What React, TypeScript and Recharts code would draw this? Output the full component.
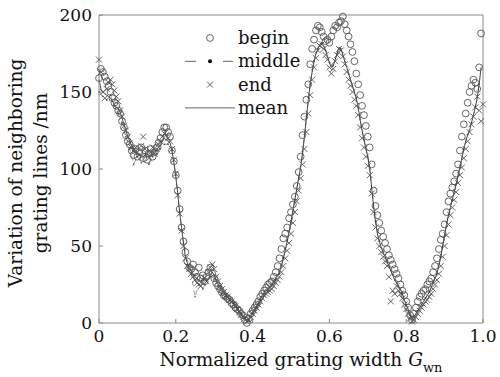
import React from 'react';
import { ComposedChart, Line, Scatter, XAxis, YAxis, Legend } from 'recharts';

// Samples on a 0.005 grid of normalized grating width (begin / end / mean),
// the middle profile is sampled every 0.01.
const BEGIN: (number | null)[] = [
  159, 165, 163, 160, 157, 154, 150, 146, 143, 141,
  138, 136, 131, 127, 122, 118, 116, 112, 109, 113,
  108, 111, 114, 107, 112, 106, 110, 113, 108, 111,
  114, 117, 120, 124, 127, 127, 124, 121, 112, 105,
  96, 86, 74, 62, 53, 46, 40, 36, 35, 38,
  33, 30, 36, 29, 31, 27, 30, 33, 36, 32,
  29, 26, 24, 22, 20, 18, 17, 16, 15, 13,
  12, 10, 9, 8, 6, 5, 2, 0, 3, 6,
  8, 10, 12, 14, 17, 19, 21, 23, 25, 26,
  27, 30, 33, 37, 42, 48, 55, 58, 62, 68,
  72, 77, 82, 89, 98, 108, 122, 134, 145, 155,
  168, 178, 184, 190, 193, 192, 189, 186, 183, 184,
  182, 186, 190, 193, 192, 195, 196, 199, 194, 190,
  186, 181, 176, 170, 162, 155, 148, 141, 135, 128,
  121, 114, 103, 86, 76, 70, 65, 60, 56, 52,
  48, 44, 41, 38, 35, 32, 29, 25, 21, 18,
  14, 10, 5, 2, 6, 10, 14, 17, 19, 21,
  22, 25, 27, 29, 33, 37, 42, 48, 54, 58,
  64, 72, 79, 84, 88, 92, 97, 103, 112, 121,
  129, 136, 143, 150, 154, 158, 156, 152, 166, 188,
  null,
];

const END: (number | null)[] = [
  171, 163, 150, 146, 152, 156, 158, 155, 151, 147,
  144, 138, 134, 128, 125, 121, 117, 114, 112, 114,
  111, 109, 115, 121, 113, 110, 107, 111, 114, 110,
  113, 116, 118, 121, 123, 122, 120, 118, 113, 106,
  97, 83, 71, 60, 50, 42, 37, 35, 32, 30,
  28, 26, 25, 24, 26, 29, 27, 33, 36, 38,
  35, 30, 27, 24, 22, 20, 18, 17, 15, 14,
  12, 11, 9, 7, 5, 4, 3, 1, 2, 4,
  6, 8, 10, 12, 14, 16, 18, 19, 20, 21,
  22, 24, 26, 28, 30, 33, 37, 42, 47, 52,
  58, 65, 72, 79, 86, 94, 103, 113, 124, 136,
  148, 158, 166, 172, 177, 180, 181, 178, 174, 171,
  166, 162, 165, 170, 174, 178, 177, 173, 168, 163,
  158, 154, 150, 145, 141, 135, 127, 120, 114, 108,
  102, 96, 84, 72, 62, 55, 50, 46, 43, 40,
  37, 30, 14, 21, 19, 24, 21, 19, 16, 12,
  9, 6, 3, 1, 2, 4, 6, 8, 10, 12,
  14, 15, 17, 19, 22, 25, 28, 32, 37, 43,
  50, 57, 64, 70, 75, 80, 85, 91, 96, 101,
  107, 113, 118, 124, 129, 134, 140, 147, 138, 131,
  142,
];

const MEAN: number[] = [
  158, 152, 150, 149, 148, 147, 146, 144, 142, 140,
  139, 137, 133, 129, 125, 121, 118, 115, 113, 111,
  110, 109, 108, 108, 109, 110, 108, 109, 110, 111,
  112, 114, 116, 118, 120, 119, 118, 117, 112, 104,
  95, 84, 72, 62, 52, 43, 39, 36, 34, 32,
  30, 29, 28, 27, 28, 28, 28, 29, 31, 33,
  31, 28, 25, 23, 21, 20, 19, 17, 16, 15,
  14, 12, 10, 8, 6, 5, 3, 2, 3, 5,
  7, 9, 11, 13, 16, 18, 20, 21, 22, 23,
  25, 27, 29, 31, 33, 37, 42, 47, 53, 59,
  66, 73, 80, 87, 94, 101, 110, 121, 133, 145,
  155, 163, 170, 175, 178, 181, 182, 180, 177, 173,
  169, 166, 167, 171, 175, 179, 178, 174, 170, 166,
  162, 158, 154, 150, 146, 140, 132, 125, 119, 113,
  108, 101, 88, 76, 66, 58, 53, 49, 46, 43,
  40, 37, 34, 31, 28, 26, 24, 22, 19, 15,
  12, 9, 5, 2, 4, 6, 8, 10, 12, 14,
  16, 18, 20, 23, 26, 29, 32, 37, 43, 50,
  57, 64, 70, 75, 80, 85, 90, 96, 101, 107,
  113, 118, 122, 125, 130, 135, 140, 146, 155, 166,
];

const MIDDLE: (number | null)[] = [
  150, 147, 145, 148, 141, 136, 130, 121, 113, 103,
  108, 104, 110, 103, 108, 110, 113, 116, 116, 112,
  96, 72, 52, 38, 32, 17, 25, 22, 27, 30,
  29, 24, 19, 17, 15, 13, 10, 6, 3, 2,
  6, 10, 15, 19, 21, 24, 28, 32, 42, 53,
  65, 80, 94, 110, 133, 155, 170, 178, 182, 177,
  169, 167, 175, 178, 170, 162, 154, 146, 132, 119,
  108, 88, 66, 53, 46, 40, 34, 28, 24, 19,
  12, 5, 4, 8, 12, 16, 20, 26, 32, 43,
  57, 70, 80, 90, 101, 113, 122, 130, 140, 155,
  null,
];

const X_TICKS = [0, 0.2, 0.4, 0.6, 0.8, 1.0];
const Y_TICKS = [0, 50, 100, 150, 200];
const LEGEND_ITEMS = ['begin', 'middle', 'end', 'mean'];

const rows = BEGIN.map((b, i) => ({
  x: i / 200,
  begin: b,
  end: END[i] ?? null,
  mean: i < MEAN.length ? MEAN[i] : null,
  middle: i % 2 === 0 ? MIDDLE[i / 2] ?? null : null,
}));

const FONT = '"DejaVu Serif", serif';
const AXIS = '#8a8a8a';
const MARK = '#555';

const Ring = (p: any) => {
  if (!p || typeof p.cy !== 'number' || isNaN(p.cy) || p.payload?.begin == null) return <g />;
  return <circle cx={p.cx} cy={p.cy} r={3.4} fill="none" stroke={MARK} strokeWidth={0.9} />;
};

const Cross = (p: any) => {
  if (!p || typeof p.cy !== 'number' || isNaN(p.cy) || p.payload?.end == null) return <g />;
  const s = 3;
  return (
    <g stroke={MARK} strokeWidth={0.9}>
      <line x1={p.cx - s} y1={p.cy - s} x2={p.cx + s} y2={p.cy + s} />
      <line x1={p.cx - s} y1={p.cy + s} x2={p.cx + s} y2={p.cy - s} />
    </g>
  );
};

const LegendBox = () => (
  <svg width={130} height={96} style={{ display: 'block' }}>
    {LEGEND_ITEMS.map((name, i) => {
      const cy = 12 + i * 23.3;
      let marker: React.ReactNode = null;
      if (name === 'begin') marker = <circle cx={30} cy={cy} r={3.4} fill="none" stroke={MARK} strokeWidth={0.9} />;
      if (name === 'middle')
        marker = (
          <g stroke="#666" strokeWidth={1}>
            <line x1={5} y1={cy} x2={16} y2={cy} />
            <line x1={43} y1={cy} x2={53} y2={cy} />
            <circle cx={30} cy={cy} r={2} fill="#111" stroke="none" />
          </g>
        );
      if (name === 'end')
        marker = (
          <g stroke={MARK} strokeWidth={0.9}>
            <line x1={27} y1={cy - 3} x2={33} y2={cy + 3} />
            <line x1={27} y1={cy + 3} x2={33} y2={cy - 3} />
          </g>
        );
      if (name === 'mean') marker = <line x1={5} y1={cy} x2={55} y2={cy} stroke="#666" strokeWidth={1} />;
      return (
        <g key={name}>
          {marker}
          <text x={58} y={cy + 6} fontFamily={FONT} fontSize={18} fill="#111">
            {name}
          </text>
        </g>
      );
    })}
  </svg>
);

const XLabel = (props: any) => {
  const vb = props.viewBox || {};
  const cx = vb.x + vb.width / 2 + 10;
  const y = vb.y + 43;
  return (
    <text x={cx} y={y} textAnchor="middle" fontFamily={FONT} fontSize={18.5} fill="#111">
      Normalized grating width{' '}
      <tspan fontStyle="italic">G</tspan>
      <tspan fontSize={13} dy={6}>
        wn
      </tspan>
    </text>
  );
};

const YLabel = (props: any) => {
  const vb = props.viewBox || {};
  const cy = vb.y + vb.height / 2 + 4;
  return (
    <g fontFamily={FONT} fontSize={18.5} fill="#111">
      <text x={22} y={cy} textAnchor="middle" transform={`rotate(-90, 22, ${cy})`}>
        Variation of neighboring
      </text>
      <text x={47} y={cy} textAnchor="middle" transform={`rotate(-90, 47, ${cy})`}>
        grating lines /nm
      </text>
    </g>
  );
};

const tickStyle = { fill: '#111', fontSize: 17, fontFamily: FONT };
const blank = () => '';

export default function App() {
  return (
    <div style={{ position: 'absolute', left: 0, top: 0, width: 500, height: 377, background: '#fff' }}>
      <ComposedChart width={500} height={377} data={rows} margin={{ top: 0, right: 0, bottom: 0, left: 0 }}>
        <XAxis
          dataKey="x"
          type="number"
          domain={[0, 1]}
          ticks={X_TICKS}
          height={54}
          tickSize={-4}
          tickMargin={11}
          tick={tickStyle}
          tickFormatter={(v: number) => (v === 0 ? '0' : v.toFixed(1))}
          axisLine={{ stroke: AXIS }}
          tickLine={{ stroke: AXIS }}
          label={<XLabel />}
        />
        <XAxis
          xAxisId="top"
          orientation="top"
          dataKey="x"
          type="number"
          domain={[0, 1]}
          ticks={X_TICKS}
          height={15}
          tickSize={-4}
          tick={false}
          tickFormatter={blank}
          axisLine={{ stroke: AXIS }}
          tickLine={{ stroke: AXIS }}
        />
        <YAxis
          type="number"
          domain={[0, 200]}
          ticks={Y_TICKS}
          width={99}
          tickSize={-4}
          tickMargin={11}
          tick={tickStyle}
          axisLine={{ stroke: AXIS }}
          tickLine={{ stroke: AXIS }}
          label={<YLabel />}
        />
        <YAxis
          yAxisId="right"
          orientation="right"
          type="number"
          domain={[0, 200]}
          ticks={Y_TICKS}
          width={17}
          tickSize={-4}
          tick={false}
          tickFormatter={blank}
          axisLine={{ stroke: AXIS }}
          tickLine={{ stroke: AXIS }}
        />
        <Legend
          layout="vertical"
          align="center"
          verticalAlign="middle"
          wrapperStyle={{ left: 180, top: 26, width: 130, height: 96 }}
          content={<LegendBox />}
        />
        <Scatter dataKey="begin" shape={<Ring />} isAnimationActive={false} legendType="none" />
        <Line
          dataKey="middle"
          stroke="#777"
          strokeWidth={0.7}
          strokeDasharray="5 4"
          dot={{ r: 0.8, fill: '#444', stroke: 'none' }}
          connectNulls
          isAnimationActive={false}
          legendType="none"
        />
        <Scatter dataKey="end" shape={<Cross />} isAnimationActive={false} legendType="none" />
        <Line
          dataKey="mean"
          stroke="#333"
          strokeWidth={0.9}
          dot={false}
          connectNulls
          isAnimationActive={false}
          legendType="none"
        />
      </ComposedChart>
    </div>
  );
}
